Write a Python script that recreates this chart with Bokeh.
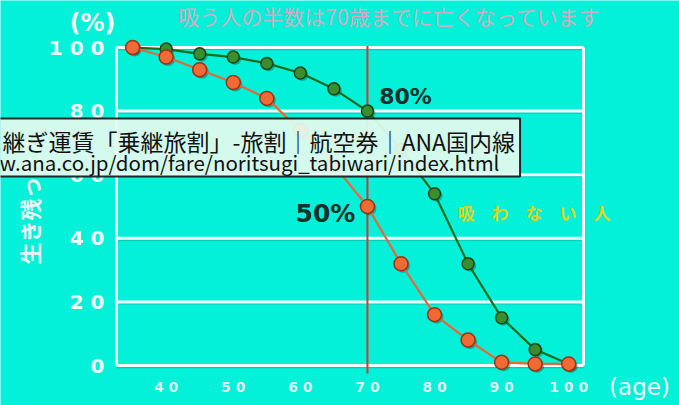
import math
from bokeh.plotting import figure
from bokeh.models import Label, Range1d
from bokeh.core.properties import value
from bokeh.embed import file_html
from bokeh.resources import INLINE

# ---------------- data ----------------
ages = [35, 40, 45, 50, 55, 60, 65, 70, 75, 80, 85, 90, 95, 100]
smokers = [100, 97, 93, 89, 84, 74, 63, 50, 32, 16, 8, 1, 0.5, 0.5]          # 吸う人
nonsmokers = [100, 99.5, 98, 97, 95, 92, 87, 80, 68, 54, 32, 15, 5, 0.5]     # 吸わない人
marker_age = 70
y_ticks = [0, 20, 40, 60, 80, 100]
x_ticks = [40, 50, 60, 70, 80, 90, 100]
age_min, age_max = 32.6, 102.2
val_min, val_max = 0, 100

title_text = "吸う人の半数は70歳までに亡くなっています"
y_label_text = "生き残った人"
label_nonsmoker = "吸　わ　な　い　人"
pct_80 = "80%"
pct_50 = "50%"
tip_line1 = "継ぎ運賃「乗継旅割」-旅割｜航空券｜ANA国内線"
tip_line2 = "w.ana.co.jp/dom/fare/noritsugi_tabiwari/index.html"

# ---------------- layout ----------------
W, H = 679, 405
CYAN = "#03f0d9"
# pixel anchors of the plot area (left/right, top/bottom of the value scale)
PX_L, PX_R = 114, 585          # ages 32.3 .. 102.5
PY_T, PY_B = 30, 370           # values 105.35 .. -1.57
AX_L, AX_R = 32.3, 102.5
VY_T, VY_B = 105.35, -1.57
kx = (AX_R - AX_L) / (PX_R - PX_L)
ky = (VY_T - VY_B) / (PY_B - PY_T)
X0, X1 = AX_L - PX_L * kx, AX_R + (W - PX_R) * kx
Y0, Y1 = VY_B - (H - PY_B) * ky, VY_T + PY_T * ky


def dx(px):
    return X0 + px * kx


def dy(py):
    return Y1 - py * ky


p = figure(width=W, height=H, output_backend="svg", toolbar_location=None,
           x_range=Range1d(X0, X1), y_range=Range1d(Y0, Y1),
           min_border=0, x_axis_type=None, y_axis_type=None)
p.background_fill_color = CYAN
p.border_fill_color = CYAN
p.outline_line_color = None
p.grid.visible = False


def spaced(v):
    return " ".join(str(v))


GRID = "#f4ffff"
# horizontal grid lines (value ticks) with a faint shadow
p.segment(x0=[age_min] * len(y_ticks), y0=[t - 0.6 for t in y_ticks],
          x1=[age_max] * len(y_ticks), y1=[t - 0.6 for t in y_ticks],
          line_color="#08a898", line_width=1.5, line_alpha=0.5)
p.segment(x0=[age_min] * len(y_ticks), y0=y_ticks, x1=[age_max] * len(y_ticks), y1=y_ticks,
          line_color=GRID, line_width=3)
# frame sides
p.segment(x0=[age_min, age_max], y0=[val_min, val_min], x1=[age_min, age_max], y1=[val_max, val_max],
          line_color=GRID, line_width=3)

# tick labels
p.text(x=[dx(104)] * len(y_ticks), y=y_ticks, text=[spaced(t) for t in y_ticks],
       text_align="right", text_baseline="middle", text_font=value("DejaVu Sans"),
       text_font_style="bold", text_font_size="20px", text_color="#eef8f8")
p.text(x=x_ticks, y=[dy(386)] * len(x_ticks), text=[spaced(t) for t in x_ticks],
       text_align="center", text_baseline="middle", text_font=value("DejaVu Sans"),
       text_font_style="bold", text_font_size="14px", text_color="#dfeeee")

# 70-year marker
p.segment(x0=[marker_age], y0=[val_min - 2.5], x1=[marker_age], y1=[val_max + 0.5],
          line_color="#c8402a", line_width=2)

# shadows of markers (2px down-right)
sh_x = 2 * kx
sh_y = 2 * ky
p.scatter([a + sh_x for a in ages], [v - sh_y for v in nonsmokers], size=12,
          fill_color="#0a3a30", line_color=None, fill_alpha=0.35)

# non-smokers (green)
p.line(ages, nonsmokers, line_color="#1d6a1d", line_width=2.2)
p.scatter(ages, nonsmokers, size=12, fill_color="#3b8e2d", line_color="#16451a", line_width=1.5)

p.scatter([a + sh_x for a in ages], [v - sh_y for v in smokers], size=14,
          fill_color="#3a2010", line_color=None, fill_alpha=0.35)
# smokers (orange)
p.line(ages, smokers, line_color="#e4683a", line_width=2.2)
p.scatter(ages, smokers, size=14, fill_color="#f26a33", line_color="#9a3416", line_width=1.5)

JP = "Noto Sans CJK JP"


def lab(px, py, text, **kw):
    p.add_layout(Label(x=dx(px), y=dy(py), text=text, **kw))


lab(389, 15, title_text, text_align="center", text_baseline="middle",
    text_font=JP, text_font_size="21px", text_color="#d0adc0")
lab(92, 22, "(%)", text_align="center", text_baseline="middle",
    text_font="DejaVu Sans", text_font_style="bold", text_font_size="24px", text_color="#f2fafa")
lab(639, 386, "(age)", text_align="center", text_baseline="middle",
    text_font="DejaVu Sans", text_font_size="23px", text_color="#f2fafa")
lab(28, 264, y_label_text, angle=math.pi / 2, text_align="left", text_baseline="middle",
    text_font=JP, text_font_style="bold", text_font_size="22px", text_color="#e6f4f4")
lab(405, 96, pct_80, text_align="center", text_baseline="middle",
    text_font="DejaVu Sans", text_font_style="bold", text_font_size="22px", text_color="#17302a")
lab(325, 213, pct_50, text_align="center", text_baseline="middle",
    text_font="DejaVu Sans", text_font_style="bold", text_font_size="25px", text_color="#17302a")
lab(457, 212, label_nonsmoker, text_align="left", text_baseline="middle",
    text_font=JP, text_font_style="bold", text_font_size="17px", text_color="#dcd51c")

# browser tooltip overlay
lab(-8, 118, tip_line1, text_align="left", text_baseline="top",
    text_font=JP, text_font_size="23px", text_color="#111111",
    background_fill_color="#e4fbef", background_fill_alpha=0.93,
    border_line_color="#1a2a24", border_line_width=2,
    padding=dict(left=10, right=5, top=5, bottom=19))
lab(-1, 161, tip_line2, text_align="left", text_baseline="middle",
    text_font=JP, text_font_size="20.5px", text_color="#111111")

open("out.html", "w").write(file_html(p, INLINE))
